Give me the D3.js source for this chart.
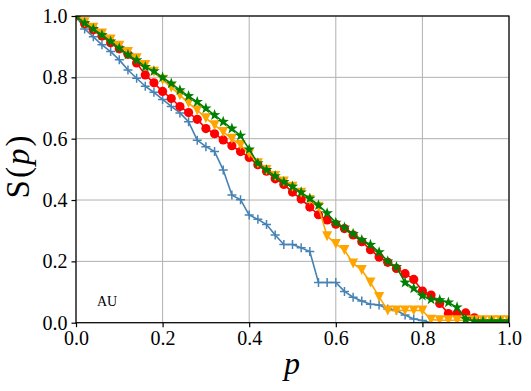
<!DOCTYPE html>
<html>
<head>
<meta charset="utf-8">
<script src="https://cdn.jsdelivr.net/npm/d3@7"></script>
<style>
  html, body { margin: 0; padding: 0; background: #fff; }
  svg { display: block; }
  text { font-family: "Liberation Serif", "DejaVu Serif", serif; fill: #000; }
</style>
</head>
<body>
<svg id="chart" width="531" height="391"></svg>
<script>
// ---- data ----
const pValues = [0.00,0.02,0.04,0.06,0.08,0.10,0.12,0.14,0.16,0.18,0.20,0.22,0.24,0.26,0.28,0.30,0.32,0.34,0.36,0.38,0.40,
  0.42,0.44,0.46,0.48,0.50,0.52,0.54,0.56,0.58,0.60,0.62,0.64,0.66,0.68,0.70,0.72,0.74,0.76,0.78,0.80,
  0.82,0.84,0.86,0.88,0.90,0.92,0.94,0.96,0.98,1.00];

const blueS = [1.0,0.958,0.932,0.906,0.884,0.857,0.824,0.797,0.771,0.751,0.728,0.705,0.684,0.655,0.595,0.574,0.558,0.498,0.416,0.401,0.351,
  0.337,0.320,0.286,0.255,0.255,0.244,0.232,0.131,0.131,0.131,0.102,0.083,0.071,0.060,0.058,0.045,0.040,0.025,0.012,0.007,
  0.0];

const redS = [1.0,0.975,0.955,0.935,0.913,0.893,0.875,0.847,0.808,0.782,0.754,0.731,0.705,0.685,0.663,0.633,0.616,0.596,0.577,0.558,0.539,
  0.515,0.494,0.469,0.451,0.426,0.403,0.377,0.352,0.335,0.321,0.307,0.286,0.264,0.238,0.214,0.197,0.177,0.160,0.141,0.103,
  0.090,0.063,0.030,0.030,0.032,0.016,0.0,0.0,0.0,0.0];

const orangeS = [1.0,0.980,0.962,0.943,0.923,0.903,0.883,0.862,0.840,0.818,0.792,0.767,0.742,0.716,0.693,0.667,0.644,0.622,0.600,0.579,0.552,
  0.520,0.498,0.478,0.460,0.443,0.424,0.400,0.378,0.282,0.257,0.237,0.193,0.172,0.131,0.084,0.040,0.040,0.040,0.040,0.040,
  0.010,0.008,0.008,0.008,0.008,0.008,0.008,0.008,0.008,0.008];

const greenS = [1.0,0.977,0.958,0.938,0.917,0.895,0.874,0.856,0.834,0.820,0.800,0.780,0.758,0.739,0.720,0.699,0.677,0.655,0.633,0.610,0.565,
  0.520,0.498,0.478,0.459,0.444,0.425,0.405,0.383,0.357,0.326,0.310,0.290,0.270,0.254,0.230,0.200,0.182,0.131,0.112,0.088,
  0.076,0.074,0.066,0.050,0.012,0.005,0.005,0.005,0.005,0.005];

const xTicks = [0.0,0.2,0.4,0.6,0.8,1.0];
const yTicks = [0.0,0.2,0.4,0.6,0.8,1.0];

const seriesList = [
  {name: "blue",   values: blueS,   color: "#4682b4", marker: "plus"},
  {name: "red",    values: redS,    color: "#ff0000", marker: "circle"},
  {name: "orange", values: orangeS, color: "#ffa500", marker: "tridown"},
  {name: "green",  values: greenS,  color: "#008000", marker: "star"}
];

// ---- layout ----
const svg = d3.select("#chart");
const pL = 76, pR = 509, pT = 16, pB = 322.7;
const x = d3.scaleLinear().domain([0, 1]).range([pL, pR]);
const y = d3.scaleLinear().domain([0, 1]).range([pB, pT]);

svg.append("rect").attr("width", 531).attr("height", 391).attr("fill", "#fff");

svg.append("defs").append("clipPath").attr("id", "plotclip")
  .append("rect").attr("x", pL).attr("y", pT)
  .attr("width", pR - pL).attr("height", pB - pT);

// grid
const grid = svg.append("g");
grid.selectAll("line.gx").data(xTicks).join("line").attr("class", "gx")
  .attr("x1", d => x(d)).attr("x2", d => x(d))
  .attr("y1", pT).attr("y2", pB)
  .attr("stroke", "#b0b0b0").attr("stroke-width", 1);
grid.selectAll("line.gy").data(yTicks).join("line").attr("class", "gy")
  .attr("y1", d => y(d)).attr("y2", d => y(d))
  .attr("x1", pL).attr("x2", pR)
  .attr("stroke", "#b0b0b0").attr("stroke-width", 1);

// markers
function starPath(R) {
  const r = R * 0.4;
  const pts = [];
  for (let i = 0; i < 10; i++) {
    const a = -Math.PI / 2 + i * Math.PI / 5;
    const rr = i % 2 === 0 ? R : r;
    pts.push([rr * Math.cos(a), rr * Math.sin(a)]);
  }
  return "M" + pts.map(p => p.join(",")).join("L") + "Z";
}

const plot = svg.append("g").attr("clip-path", "url(#plotclip)");
const line = d3.line().x(d => x(d[0])).y(d => y(d[1]));

seriesList.forEach(s => {
  const data = s.values.map((v, i) => [pValues[i], v]);
  const g = plot.append("g");
  g.append("path").datum(data).attr("d", line)
    .attr("fill", "none").attr("stroke", s.color).attr("stroke-width", 1.6)
    .attr("stroke-linejoin", "round");
  const m = g.selectAll("path.m").data(data).join("path").attr("class", "m")
    .attr("transform", d => `translate(${x(d[0])},${y(d[1])})`);
  if (s.marker === "circle") {
    m.attr("d", d3.symbol(d3.symbolCircle, Math.PI * 4.6 * 4.6)()).attr("fill", s.color);
  } else if (s.marker === "tridown") {
    m.attr("d", "M-5,-5L5,-5L0,5Z").attr("fill", s.color);
  } else if (s.marker === "star") {
    m.attr("d", starPath(6)).attr("fill", s.color);
  } else if (s.marker === "plus") {
    m.attr("d", "M-4.5,0L4.5,0M0,-4.5L0,4.5").attr("fill", "none")
      .attr("stroke", s.color).attr("stroke-width", 1.5);
  }
});

// spines
svg.append("rect").attr("x", pL).attr("y", pT)
  .attr("width", pR - pL).attr("height", pB - pT)
  .attr("fill", "none").attr("stroke", "#000").attr("stroke-width", 1.2);

// axes
const fmt = d3.format(".1f");
const xAxis = svg.append("g").attr("transform", `translate(0,${pB})`)
  .call(d3.axisBottom(x).tickValues(xTicks).tickFormat(fmt).tickSize(4.5).tickPadding(4));
const yAxis = svg.append("g").attr("transform", `translate(${pL},0)`)
  .call(d3.axisLeft(y).tickValues(yTicks).tickFormat(fmt).tickSize(4.5).tickPadding(4));
[xAxis, yAxis].forEach(a => {
  a.select(".domain").remove();
  a.selectAll(".tick line").attr("stroke", "#000").attr("stroke-width", 1.2);
  a.selectAll("text").style("font-family", '"Liberation Serif", serif')
    .style("font-size", "20px").attr("fill", "#000");
});

// labels
const yl = svg.append("text")
  .attr("transform", "translate(29,166) rotate(-90)")
  .attr("text-anchor", "middle")
  .style("font-size", "33px")
  .style("letter-spacing", "2px");
yl.append("tspan").text("S(");
yl.append("tspan").style("font-style", "italic").text("p");
yl.append("tspan").text(")");

svg.append("text").attr("x", 292).attr("y", 374)
  .attr("text-anchor", "middle")
  .style("font-size", "32px").style("font-style", "italic").text("p");

svg.append("text").attr("x", 97).attr("y", 306)
  .style("font-size", "14px").text("AU");
</script>
</body>
</html>
